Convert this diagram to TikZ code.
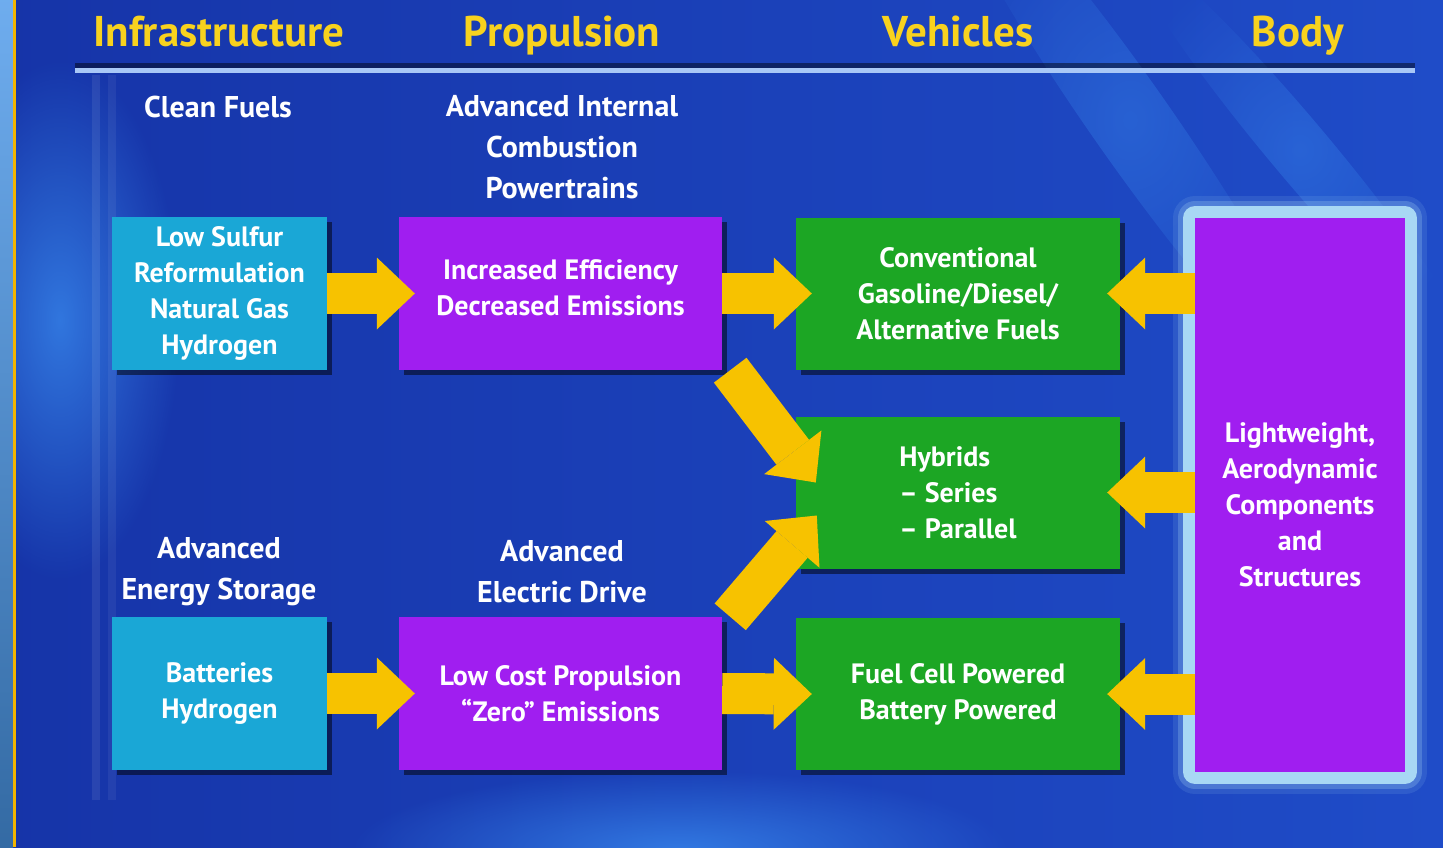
\documentclass[tikz,border=0pt]{standalone}
\usepackage{fontspec}
\setmainfont{PT Sans}
\usetikzlibrary{arrows.meta,calc,positioning,shadows,fadings}

\definecolor{bgdeep}{HTML}{1634A8}
\definecolor{bgmid}{HTML}{1F4CC8}
\definecolor{bglight}{HTML}{3A8CF0}
\definecolor{stripblue}{HTML}{4A98EA}
\definecolor{stripgold}{HTML}{F2B400}
\definecolor{rulelight}{HTML}{A9C8F6}
\definecolor{headgold}{HTML}{F8D21E}
\definecolor{fuelcyan}{HTML}{1AA7D6}
\definecolor{drivepurple}{HTML}{A01EF0}
\definecolor{vehgreen}{HTML}{1CA624}
\definecolor{arrowgold}{HTML}{F7C200}
\definecolor{rimblue}{HTML}{A8D8F4}

\newcommand{\hdfont}{\fontsize{43}{46}\selectfont\bfseries}
\newcommand{\sbfont}{\fontsize{30}{41}\selectfont\bfseries}
\newcommand{\bxfont}{\fontsize{28}{36}\selectfont\bfseries}

\tikzfading[name=softspot, inner color=transparent!25, outer color=transparent!100]

\tikzset{
  headtext/.style={text=headgold, font=\hdfont, anchor=base},
  subtext/.style={text=white, font=\sbfont, align=center},
  panel/.style={inner sep=0pt, text=white, font=\bxfont, align=center,
    drop shadow={shadow xshift=5pt, shadow yshift=-5pt, opacity=0.5, fill=black}},
  fuelpanel/.style={panel, fill=fuelcyan, minimum width=215pt, minimum height=153pt},
  drivepanel/.style={panel, fill=drivepurple, minimum width=323pt, minimum height=153pt},
  vehpanel/.style={panel, fill=vehgreen, minimum width=324pt, minimum height=152pt},
  bodypanel/.style={panel, fill=drivepurple, minimum width=210pt, minimum height=554pt,
    preaction={draw=rimblue, opacity=0.12, line width=44pt, line join=round},
    preaction={draw=rimblue, opacity=0.25, line width=34pt, line join=round},
    preaction={draw=rimblue, line width=24pt, line join=round}},
  fatarrow/.style={draw=arrowgold, line width=41pt,
    -{Triangle[width=72pt,length=38pt,line width=0pt]}}
}

\begin{document}
\begin{tikzpicture}[x=1pt,y=-1pt]
  \useasboundingbox (0,0) rectangle (1443,847);
  % backdrop
  \shade[left color=bgdeep, right color=bgmid] (0,0) rectangle (1443,847);
  \begin{scope}[shift={(1130,120)}, rotate=-55]
    \fill[bglight, opacity=0.5, path fading=softspot] (0,0) ellipse (320 and 40);
  \end{scope}
  \begin{scope}[shift={(1300,150)}, rotate=-50]
    \fill[bglight, opacity=0.5, path fading=softspot] (0,0) ellipse (260 and 30);
  \end{scope}
  \fill[bglight, path fading=softspot] (680,850) ellipse (330 and 80);
  \fill[bglight, path fading=softspot] (60,320) ellipse (120 and 260);
  \shade[top color=stripblue!80!white, bottom color=stripblue!70!black] (0,0) rectangle (13,847);
  \fill[stripgold] (13,0) rectangle (16,847);
  \fill[white, opacity=0.08] (92,75) rectangle (100,800);
  \fill[white, opacity=0.06] (108,75) rectangle (116,800);
  \fill[black, opacity=0.45] (75,63) rectangle (1415,68);
  \fill[rulelight] (75,68) rectangle (1415,73);

  % column heads
  \node[headtext] (infrahead) at (219,46) {Infrastructure};
  \node[headtext] (prophead) at (562,46) {Propulsion};
  \node[headtext] (vehhead) at (958,46) {Vehicles};
  \node[headtext] (bodyhead) at (1298,46) {Body};

  \node[subtext, anchor=base] (cleanhead) at (218,117) {Clean Fuels};
  \node[subtext] (icehead) at (562,147) {Advanced Internal\\Combustion\\Powertrains};
  \node[subtext] (storehead) at (219,572) {Advanced\\Energy Storage};
  \node[subtext] (drivehead) at (562,572) {Advanced\\Electric Drive};

  % panels
  \node[fuelpanel] (fuelbox) at (219.5,293.5) {Low Sulfur\\Reformulation\\Natural Gas\\Hydrogen};
  \node[drivepanel] (icebox) at (560.5,293.5) {Increased Efficiency\\Decreased Emissions\rule[-12pt]{0pt}{12pt}};
  \node[vehpanel] (convbox) at (958,293.5) {Conventional\\Gasoline/Diesel/\\Alternative Fuels};
  \node[vehpanel, align=left] (hybbox) at (958,492.5) {Hybrids\\– Series\\– Parallel};
  \node[vehpanel] (fcbox) at (958,694) {Fuel Cell Powered\\Battery Powered};
  \node[fuelpanel] (storebox) at (219.5,693.5) {Batteries\\Hydrogen};
  \node[drivepanel] (edbox) at (560.5,693.5) {Low Cost Propulsion\\“Zero” Emissions};
  \node[bodypanel] (bodybox) at (1300,495) {\rule{0pt}{40pt}Lightweight,\\Aerodynamic\\Components\\and\\Structures};

  % arrows
  \draw[fatarrow] (fuelbox.east) -- ($(icebox.west)+(16,0)$);
  \draw[fatarrow] (icebox.east) -- ($(convbox.west)+(16,0)$);
  \draw[fatarrow] (storebox.east) -- ($(edbox.west)+(16,0)$);
  \draw[fatarrow] (edbox.east) -- ($(fcbox.west)+(16,0)$);
  \draw[fatarrow] ($(icebox.south east)+(8,0)$) -- ($(hybbox.west)+(20,-10)$);
  \draw[fatarrow] ($(edbox.north east)+(8,0)$) -- ($(hybbox.west)+(21,23)$);
  \foreach \target in {convbox,hybbox,fcbox}
    \draw[fatarrow] (bodybox.west |- \target.east) -- ($(\target.east)+(-13,0)$);
\end{tikzpicture}
\end{document}
